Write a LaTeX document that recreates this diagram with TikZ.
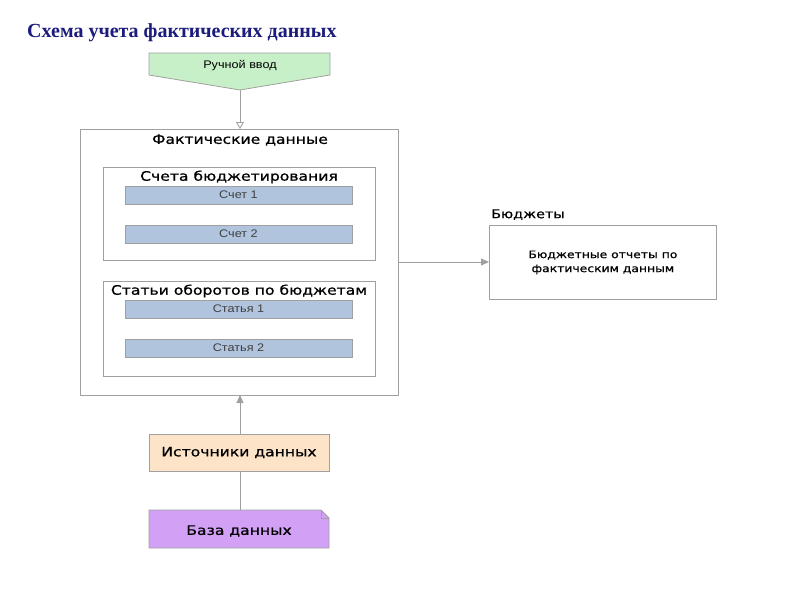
\documentclass[tikz,border=0pt]{standalone}
\usepackage{fontspec}
\setmainfont{Liberation Sans}
\newfontfamily\titlefont{Liberation Serif}
\newfontfamily\headfont[FakeStretch=1.2,FakeBold=0.9]{DejaVu Sans}
\newfontfamily\smallfont[FakeStretch=1.15]{Liberation Sans}
\usetikzlibrary{arrows.meta}
\definecolor{titleblue}{RGB}{28,28,125}
\definecolor{lgray}{RGB}{160,160,160}
\definecolor{bgreen}{RGB}{200,240,200}
\definecolor{bblue}{RGB}{176,196,222}
\definecolor{bpeach}{RGB}{253,228,200}
\definecolor{bviolet}{RGB}{210,160,245}
\tikzset{
  frame/.style={draw=lgray, line width=0.8pt, fill=white},
  bar/.style={draw=lgray, line width=0.8pt, fill=bblue, minimum width=227pt, minimum height=18pt, inner sep=0pt, font=\smallfont\fontsize{11}{12}\selectfont\color{black!75}},
  head/.style={font=\headfont\fontsize{13}{15}\selectfont, inner sep=0pt},
  conn/.style={draw=lgray, line width=0.9pt},
}
\begin{document}
\begin{tikzpicture}[x=1pt,y=-1pt]
\useasboundingbox (0,0) rectangle (800,600);
% title
\node[anchor=west, font=\titlefont\bfseries\fontsize{20}{22}\selectfont, text=titleblue, inner sep=0pt] (title) at (27,33) {Схема учета фактических данных};
% manual input
\draw[draw=lgray, fill=bgreen, line width=0.8pt] (149,53) -- (330,53) -- (330,75) -- (240,90) -- (149,75) -- cycle;
\node[font=\smallfont\fontsize{11}{12}\selectfont, inner sep=0pt] (manual) at (240,65.5) {Ручной ввод};
\coordinate (mtip) at (240,90);
% outer box
\draw[frame] (80,129) rectangle (398,395);
\coordinate (outtop) at (240,129);
\coordinate (outbot) at (240,395);
\coordinate (outright) at (398,262);
\node[head] (fact) at (240,140) {Фактические данные};
% inner box 1
\draw[frame] (103,167) rectangle (375,260);
\node[head] (acc) at (239,177) {Счета бюджетирования};
\node[bar] (acc1) at (238.5,195) {\raisebox{-0.5pt}{Счет 1}};
\node[bar] (acc2) at (238.5,234) {\raisebox{-0.5pt}{Счет 2}};
% inner box 2
\draw[frame] (103,281) rectangle (375,376);
\node[head] (art) at (239,291) {Статьи оборотов по бюджетам};
\node[bar] (art1) at (238.5,309) {\raisebox{-0.5pt}{Статья 1}};
\node[bar] (art2) at (238.5,348) {\raisebox{-0.5pt}{Статья 2}};
% budgets
\node[draw=lgray, line width=0.8pt, minimum width=227pt, minimum height=74pt, inner sep=0pt, anchor=north west, align=center, font=\headfont\fontsize{10.3}{14}\selectfont] (bud) at (489,225) {Бюджетные отчеты по\\фактическим данным};
\node[anchor=south west, font=\headfont\fontsize{12}{14}\selectfont, inner sep=0pt] (budlbl) at (491,220) {Бюджеты};
% sources
\node[draw=lgray, line width=0.8pt, fill=bpeach, minimum width=180pt, minimum height=37pt, inner sep=0pt, font=\headfont\fontsize{13}{15}\selectfont] (src) at (239,452.5) {Источники данных};
% database (note shape)
\draw[draw=lgray, fill=bviolet, line width=0.8pt] (149,510) -- (321,510) -- (329,518) -- (329,548) -- (149,548) -- cycle;
\draw[draw=lgray, line width=0.8pt] (321,510) -- (321,518) -- (329,518);
\node[font=\headfont\fontsize{13}{15}\selectfont, inner sep=0pt] (db) at (239,531) {База данных};
\coordinate (dbtop) at (240,510);
% connectors
\draw[conn, -{Triangle[open, length=7pt, width=8pt]}] (mtip) -- (outtop);
\draw[conn, -{Triangle[length=8pt, width=7pt]}, color=lgray] (outright) -- (outright -| bud.west);
\draw[conn, -{Triangle[length=8pt, width=7pt]}, color=lgray] (src.north -| outbot) -- (outbot);
\draw[conn] (dbtop) -- (src.south -| dbtop);
\end{tikzpicture}
\end{document}
